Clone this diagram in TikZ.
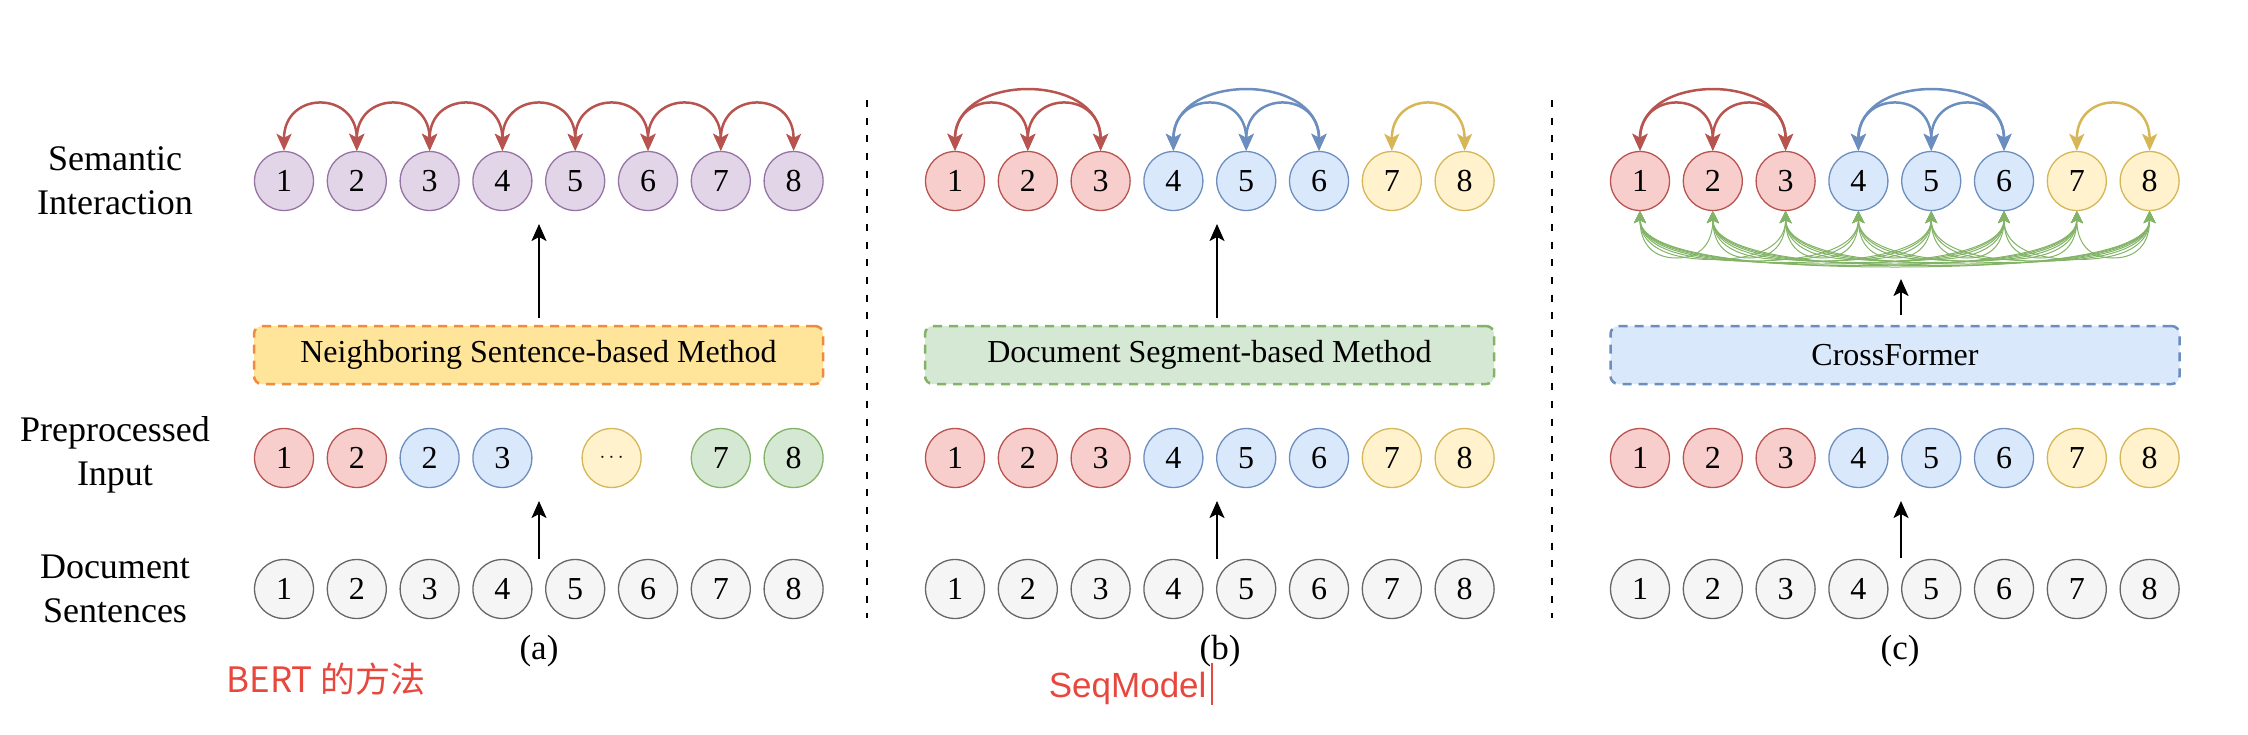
\documentclass[tikz,border=0pt]{standalone}
\usepackage{fontspec}
\setmainfont{Liberation Serif}
\newfontfamily\cjk{Noto Sans CJK SC}
\newfontfamily\hsans{Liberation Sans}
\usetikzlibrary{arrows.meta,calc}
\definecolor{purF}{HTML}{E1D5E7}\definecolor{purS}{HTML}{9673A6}
\definecolor{redF}{HTML}{F8CECC}\definecolor{redS}{HTML}{B85450}
\definecolor{bluF}{HTML}{DAE8FC}\definecolor{bluS}{HTML}{6C8EBF}
\definecolor{yelF}{HTML}{FFF2CC}\definecolor{yelS}{HTML}{D6B656}
\definecolor{grnF}{HTML}{D5E8D4}\definecolor{grnS}{HTML}{82B366}
\definecolor{gryF}{HTML}{F5F5F5}\definecolor{gryS}{HTML}{666666}
\definecolor{orgF}{HTML}{FFE599}\definecolor{orgS}{HTML}{F08A3C}
\definecolor{redT}{HTML}{E8473D}
\tikzset{
  sent/.style={circle, minimum size=59pt, inner sep=0pt, line width=1.3pt, font=\fontsize{32}{38}\selectfont},
  purN/.style={sent, draw=purS, fill=purF},
  redN/.style={sent, draw=redS, fill=redF},
  bluN/.style={sent, draw=bluS, fill=bluF},
  yelN/.style={sent, draw=yelS, fill=yelF},
  grnN/.style={sent, draw=grnS, fill=grnF},
  gryN/.style={sent, draw=gryS, fill=gryF},
  methodbox/.style={rectangle, rounded corners=8pt, minimum width=569pt, minimum height=58pt, line width=2.5pt, dash pattern=on 9pt off 7pt, font=\fontsize{32}{38}\selectfont},
  rowlabel/.style={align=center, font=\fontsize{36}{44}\selectfont},
  caption/.style={font=\fontsize{35}{40}\selectfont},
  uparrow/.style={-{Stealth[length=17pt,width=15pt,inset=4pt]}, line width=2pt, black},
  bigtip/.style={{Stealth[length=17pt,width=15pt,inset=4pt]}-{Stealth[length=17pt,width=15pt,inset=4pt]}, line width=2.5pt},
  arcR/.style={bigtip, draw=redS},
  arcB/.style={bigtip, draw=bluS},
  arcY/.style={bigtip, draw=yelS},
  grnarc/.style={{Stealth[length=12pt,width=12pt,inset=3pt]}-{Stealth[length=12pt,width=12pt,inset=3pt]}, line width=1pt, draw=grnS},
  sepline/.style={line width=2.5pt, dash pattern=on 7pt off 10.7pt, black},
  redtext/.style={text=redT}
}
\begin{document}
\begin{tikzpicture}[x=1pt,y=1pt]
\useasboundingbox (0,0) rectangle (2248,-734);
% row labels
\node[rowlabel] (lsem) at (115,-181) {Semantic\\Interaction};
\node[rowlabel] (lpre) at (115,-455) {Preprocessed\\Input};
\node[rowlabel] (ldoc) at (115,-589) {Document\\Sentences};

% ---------------- panel (a)
\foreach \k in {1,...,8}{
  \node[purN] (a\k) at ({284+72.8*(\k-1)},-181) {\k};
  \node[gryN] (da\k) at ({284+72.8*(\k-1)},-589) {\k};
}
\foreach \k/\t/\st/\p in {1/1/redN/0, 2/2/redN/1, 3/2/bluN/2, 4/3/bluN/3, 7/7/grnN/6, 8/8/grnN/7}
  \node[\st] (pa\k) at ({284+72.8*\p},-458) {\t};
\node[yelN, font=\fontsize{20}{24}\selectfont] (pad) at ({284+72.8*4.5},-458) {$\cdots$};
\node[methodbox, draw=orgS, fill=orgF] (boxa) at (538.5,-355) {Neighboring Sentence-based Method};
\foreach \i in {1,...,7}{
  \pgfmathtruncatemacro\j{\i+1}
  \draw[arcR] (a\i.north) to[out=90,in=90,looseness=2.13] (a\j.north);
}
\coordinate (aut) at (539,-318);
\coordinate (auh) at (539,-224);
\coordinate (alt) at (539,-559);
\coordinate (alh) at (539,-501);
\draw[uparrow] (aut) -- (auh);
\draw[uparrow] (alt) -- (alh);
\node[caption] (capa) at (539,-651) {(a)};
\node[font=\cjk\fontsize{35}{40}\selectfont, redtext, anchor=base] (bert) at (326,-692) {BERT 的方法};

\draw[sepline] (867,-100) -- (867,-618);

% ---------------- panel (b)
\foreach \k/\st in {1/redN,2/redN,3/redN,4/bluN,5/bluN,6/bluN,7/yelN,8/yelN}{
  \node[\st] (b\k) at ({955+72.8*(\k-1)},-181) {\k};
  \node[\st] (pb\k) at ({955+72.8*(\k-1)},-458) {\k};
  \node[gryN] (db\k) at ({955+72.8*(\k-1)},-589) {\k};
}
\node[methodbox, draw=grnS, fill=grnF] (boxb) at (1209.5,-355) {Document Segment-based Method};
\foreach \i/\j/\lo/\st in {1/2/2.13/arcR,2/3/2.13/arcR,1/3/1.38/arcR,4/5/2.13/arcB,5/6/2.13/arcB,4/6/1.38/arcB,7/8/2.13/arcY}
  \draw[\st] (b\i.north) to[out=90,in=90,looseness=\lo] (b\j.north);
\coordinate (but) at (1217,-318);
\coordinate (buh) at (1217,-224);
\coordinate (blt) at (1217,-559);
\coordinate (blh) at (1217,-501);
\draw[uparrow] (but) -- (buh);
\draw[uparrow] (blt) -- (blh);
\node[caption] (capb) at (1220,-651) {(b)};
\node[font=\hsans\fontsize{35}{40}\selectfont, redtext, anchor=base east] (seq) at (1210,-697) {SeqModel};
\draw[redT, line width=1.5pt] (1212,-663) -- (1212,-705);

\draw[sepline] (1552,-100) -- (1552,-618);

% ---------------- panel (c)
\foreach \k/\st in {1/redN,2/redN,3/redN,4/bluN,5/bluN,6/bluN,7/yelN,8/yelN}{
  \node[\st] (c\k) at ({1640+72.8*(\k-1)},-181) {\k};
  \node[\st] (pc\k) at ({1640+72.8*(\k-1)},-458) {\k};
  \node[gryN] (dc\k) at ({1640+72.8*(\k-1)},-589) {\k};
}
\node[methodbox, draw=bluS, fill=bluF] (boxc) at (1895,-355) {CrossFormer};
\foreach \i/\j/\lo/\st in {1/2/2.13/arcR,2/3/2.13/arcR,1/3/1.38/arcR,4/5/2.13/arcB,5/6/2.13/arcB,4/6/1.38/arcB,7/8/2.13/arcY}
  \draw[\st] (c\i.north) to[out=90,in=90,looseness=\lo] (c\j.north);
\foreach \i in {1,...,7}{
  \pgfmathtruncatemacro\ip{\i+1}
  \foreach \j in {\ip,...,8}{
    \pgfmathsetmacro\pxi{1640+72.8*(\i-1)}
    \pgfmathsetmacro\pxj{1640+72.8*(\j-1)}
    \pgfmathsetmacro\pxm{(\pxi+\pxj)/2}
    \pgfmathsetmacro\pyc{-(258+1.5*(\j-\i-1))}
    \pgfmathsetmacro\pdd{2/3*(\pyc+210.5)}
    \pgfmathsetmacro\pxa{\pxm-(\pxm-\pxi)*2/3}
    \pgfmathsetmacro\pxb{\pxm+(\pxj-\pxm)*2/3}
    \draw[grnarc] (c\i.south) .. controls ($(c\i.south)+(0,\pdd)$) and (\pxa,\pyc) .. (\pxm,\pyc) .. controls (\pxb,\pyc) and ($(c\j.south)+(0,\pdd)$) .. (c\j.south);
  }
}
\coordinate (cut) at (1901,-315);
\coordinate (cuh) at (1901,-279);
\coordinate (clt) at (1901,-558);
\coordinate (clh) at (1901,-501);
\draw[uparrow] (cut) -- (cuh);
\draw[uparrow] (clt) -- (clh);
\node[caption] (capc) at (1900,-651) {(c)};
\end{tikzpicture}
\end{document}
